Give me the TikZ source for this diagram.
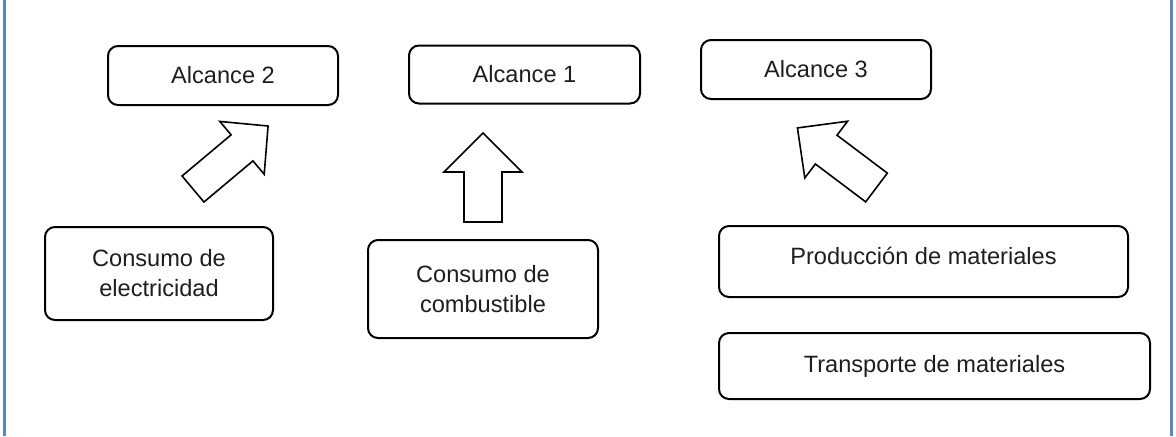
\documentclass[tikz,border=0pt]{standalone}
\usepackage{fontspec}
\setmainfont{Liberation Sans}
\usepackage{xcolor}
\usepackage{tikz}
\usetikzlibrary{positioning}
\definecolor{FrameBlue}{HTML}{5B87C0}
\definecolor{TextGray}{HTML}{1E1E1E}

\begin{document}
\begin{tikzpicture}[x=0.5pt, y=-0.5pt,
    scopebox/.style={draw, line width=1pt, rounded corners=5pt, align=center, inner sep=0pt,
      text=TextGray, font=\fontsize{11.8}{15}\selectfont},
    blockarrow/.style={draw, line width=0.8pt, fill=white, line join=miter}]
  \useasboundingbox (0,0) rectangle (1176,436);
  \draw[FrameBlue, line width=1.5pt] (4.5,0) -- (4.5,436);
  \draw[FrameBlue, line width=1.5pt] (1171.5,0) -- (1171.5,436);

  % alcances
  \node[scopebox, minimum width=115pt, minimum height=29.5pt] (alc2) at (223,75.5) {Alcance 2};
  \node[scopebox, minimum width=115.5pt, minimum height=29pt] (alc1) at (524.5,74.5) {Alcance 1};
  \node[scopebox, minimum width=115pt, minimum height=29.5pt] (alc3) at (816,69.5) {Alcance 3};

  % fuentes
  \node[scopebox, minimum width=114pt, minimum height=46.5pt] (elec) at (159,273.5) {Consumo de\\electricidad};
  \node[scopebox, minimum width=115pt, minimum height=49pt] (comb) at (483,289) {Consumo de\\combustible};
  \node[scopebox, minimum width=204.5pt, minimum height=35.5pt, text depth=6pt] (prod) at (923.5,261.5) {Producci\'on de materiales};
  \node[scopebox, minimum width=215.5pt, minimum height=33pt] (trans) at (934.5,366) {Transporte de materiales};

  % flechas
  \draw[blockarrow, shift={(193,189)}, rotate=40]
    (0,-17) -- (64,-17) -- (64,-34.5) -- (98,0) -- (64,34.5) -- (64,17) -- (0,17) -- cycle;
  \draw[blockarrow, shift={(483,222)}, rotate=90]
    (0,-19) -- (50,-19) -- (50,-39) -- (89,0) -- (50,39) -- (50,19) -- (0,19) -- cycle;
  \draw[blockarrow, shift={(876.5,187.5)}, rotate=143]
    (0,-18) -- (63,-18) -- (63,-35.5) -- (99,0) -- (63,35.5) -- (63,18) -- (0,18) -- cycle;
\end{tikzpicture}
\end{document}
